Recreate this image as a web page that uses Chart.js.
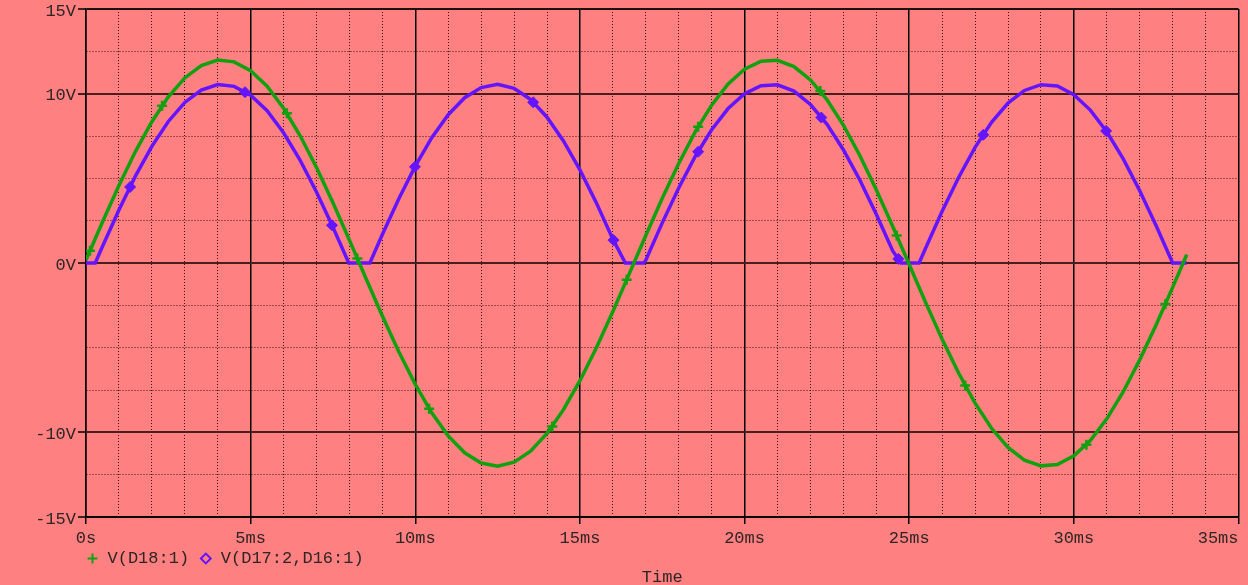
<!DOCTYPE html>
<html>
<head>
<meta charset="utf-8">
<title>V(D18:1) / V(D17:2,D16:1)</title>
<script src="https://cdn.jsdelivr.net/npm/chart.js@4.4.1/dist/chart.umd.min.js"></script>
<style>
  html, body { margin: 0; padding: 0; background: #ff8080; overflow: hidden; }
  #wrap { width: 1248px; height: 600px; }
</style>
</head>
<body>
<div id="wrap"><canvas id="scope"></canvas></div>
<script>
// transformer secondary V(D18:1), time in ms
const secondaryTime = [0, 0.5, 1, 1.5, 2, 2.5, 3, 3.5, 4, 4.5, 5, 5.5, 6, 6.5, 7, 7.5, 8, 8.5, 9, 9.5,
    10, 10.5, 11, 11.5, 12, 12.5, 13, 13.5, 14, 14.5, 15, 15.5, 16, 16.5, 17, 17.5, 18, 18.5, 19, 19.5,
    20, 20.5, 21, 21.5, 22, 22.5, 23, 23.5, 24, 24.5, 25, 25.5, 26, 26.5, 27, 27.5, 28, 28.5, 29, 29.5,
    30, 30.5, 31, 31.5, 32, 32.5, 33, 33.43]
const secondaryVolts = [0.18, 2.42, 4.58, 6.58, 8.34, 9.81, 10.93, 11.66, 11.99, 11.88,
    11.36, 10.44, 9.14, 7.53, 5.64, 3.56, 1.35, -0.90, -3.13, -5.24,
    -7.17, -8.85, -10.21, -11.21, -11.81, -12.00, -11.76, -11.11, -10.06, -8.66,
    -6.95, -5.00, -2.86, -0.63, 1.62, 3.82, 5.88, 7.74, 9.32, 10.57,
    11.45, 11.92, 11.97, 11.60, 10.81, 9.65, 8.14, 6.35, 4.33, 2.16,
    -0.09, -2.34, -4.50, -6.50, -8.28, -9.76, -10.89, -11.64, -11.98, -11.90,
    -11.39, -10.48, -9.20, -7.60, -5.72, -3.65, -1.44, 0.50]

// bridge output V(D17:2,D16:1)
const bridgeTime = [0, 0.28, 0.5, 1, 1.5, 2, 2.5, 3, 3.5, 4, 4.5, 5, 5.5, 6, 6.5, 7, 7.5, 7.98, 8.62,
    9, 9.5, 10, 10.5, 11, 11.5, 12, 12.5, 13, 13.5, 14, 14.5, 15, 15.5, 16, 16.38, 16.94,
    17, 17.5, 18, 18.5, 19, 19.5, 20, 20.5, 21, 21.5, 22, 22.5, 23, 23.5, 24, 24.5, 24.75, 25.3,
    25.5, 26, 26.5, 27, 27.5, 28, 28.5, 29, 29.5, 30, 30.5, 31, 31.5, 32, 32.5, 33, 33.43]
const bridgeVolts = [0, 0, 0.97, 3.13, 5.13, 6.89, 8.36, 9.48, 10.21, 10.54, 10.43, 9.91, 8.99, 7.69, 6.08, 4.19, 2.11, 0, 0,
    1.68, 3.79, 5.72, 7.40, 8.76, 9.76, 10.36, 10.55, 10.31, 9.66, 8.61, 7.21, 5.50, 3.55, 1.41, 0, 0,
    0.17, 2.37, 4.43, 6.29, 7.87, 9.12, 10.00, 10.47, 10.52, 10.15, 9.36, 8.20, 6.69, 4.90, 2.88, 0.71, 0, 0,
    0.89, 3.05, 5.05, 6.83, 8.31, 9.44, 10.19, 10.53, 10.45, 9.94, 9.03, 7.75, 6.15, 4.27, 2.20, 0, 0]

// trace markers
const secondaryMarkTime = [0.12, 2.31, 6.1, 8.24, 10.42, 14.16, 16.42, 18.59, 22.3, 24.62, 26.7, 30.38, 32.78]
const secondaryMarkVolts = [0.72, 9.29, 8.85, 0.27, -8.60, -9.65, -0.99, 8.04, 10.16, 1.62, -7.24, -10.74, -2.42]
const bridgeMarkTime = [1.34, 4.83, 7.47, 9.99, 13.58, 16.02, 18.59, 22.33, 24.67, 27.25, 30.98]
const bridgeMarkVolts = [4.49, 10.09, 2.23, 5.68, 9.49, 1.35, 6.57, 8.59, 0.24, 7.57, 7.80]

const traceNames = ['V(D18:1)', 'V(D17:2,D16:1)']
const traceColors = ['#10a010', '#6414ff']
const traceMarkers = ['cross', 'rectRot']

const xMin = 0, xMax = 35, xStep = 1, xMajor = 5
const yMin = -15, yMax = 15, yStep = 2.5, yMajor = 10

const mono = "'Liberation Mono', 'DejaVu Sans Mono', monospace"
const textColor = '#2e2424'
const dotted = 'rgba(30,0,0,0.85)'

const isMajorX = v => Math.abs(v % xMajor) < 1e-6
const isMajorY = v => Math.abs(v % yMajor) < 1e-6
const isEdgeY = v => Math.abs(Math.abs(v) - yMax) < 1e-6

function toPoints(xs, ys) {
    return xs.map((x, i) => ({ x: x, y: ys[i] }))
}

function renderChart() {
    const ctx = document.querySelector('#scope').getContext('2d')

    const legendItems = traceNames.map((name, i) => ({
        // trailing space keeps the two entries apart like the probe window
        text: i === 0 ? name + ' ' : name,
        fillStyle: i === 0 ? traceColors[i] : 'rgba(0,0,0,0)',
        strokeStyle: traceColors[i],
        lineWidth: 2,
        pointStyle: traceMarkers[i],
        hidden: false,
        datasetIndex: i,
        fontColor: textColor
    }))

    new Chart(ctx, {
        type: 'line',
        data: {
            datasets: [{
                label: traceNames[0],
                data: toPoints(secondaryTime, secondaryVolts),
                borderColor: traceColors[0],
                borderWidth: 3.5,
                pointRadius: 0,
                order: 2
            }, {
                label: traceNames[1],
                data: toPoints(bridgeTime, bridgeVolts),
                borderColor: traceColors[1],
                borderWidth: 3.5,
                pointRadius: 0,
                order: 3
            }, {
                data: toPoints(secondaryMarkTime, secondaryMarkVolts),
                showLine: false,
                pointStyle: traceMarkers[0],
                pointRadius: 5,
                pointBorderWidth: 2.5,
                pointBorderColor: traceColors[0],
                pointBackgroundColor: traceColors[0],
                order: 0
            }, {
                data: toPoints(bridgeMarkTime, bridgeMarkVolts),
                showLine: false,
                pointStyle: traceMarkers[1],
                pointRadius: 5.5,
                pointBorderWidth: 1,
                pointBorderColor: traceColors[1],
                pointBackgroundColor: traceColors[1],
                order: 1
            }]
        },
        options: {
            animation: false,
            responsive: true,
            maintainAspectRatio: false,
            events: [],
            elements: { line: { tension: 0 } },
            layout: { padding: { top: 9, right: 9.5, left: 0, bottom: 0 } },
            scales: {
                x: {
                    type: 'linear',
                    min: xMin,
                    max: xMax,
                    afterFit(scale) {
                        scale.height = 33
                        scale.paddingLeft = 0
                        scale.paddingRight = 0
                    },
                    ticks: {
                        stepSize: xStep,
                        autoSkip: false,
                        maxRotation: 0,
                        minRotation: 0,
                        padding: 4,
                        color: textColor,
                        font: { family: mono, size: 17 },
                        callback: v => {
                            if (!isMajorX(v)) return ''
                            if (v === 0) return '0s'
                            // last label sits left of its tick
                            return v === xMax ? v + 'ms    ' : v + 'ms'
                        }
                    },
                    grid: {
                        color: c => isMajorX(c.tick.value) ? '#000' : dotted,
                        lineWidth: c => isMajorX(c.tick.value) ? 1.5 : 1,
                        tickLength: 7,
                        tickWidth: 1.5,
                        tickColor: c => isMajorX(c.tick.value) ? '#000' : 'rgba(0,0,0,0)'
                    },
                    border: {
                        color: '#000',
                        width: 1.5,
                        dash: c => (c.tick && !isMajorX(c.tick.value)) ? [1, 2] : []
                    }
                },
                y: {
                    type: 'linear',
                    min: yMin,
                    max: yMax,
                    afterFit(scale) {
                        scale.width = 86
                        scale.paddingTop = 0
                        scale.paddingBottom = 0
                    },
                    ticks: {
                        stepSize: yStep,
                        autoSkip: false,
                        padding: 2,
                        labelOffset: 2,
                        color: textColor,
                        font: { family: mono, size: 17 },
                        callback: v => (isMajorY(v) || isEdgeY(v)) ? v + 'V' : ''
                    },
                    grid: {
                        color: c => isEdgeY(c.tick.value) ? '#1e1010' : (isMajorY(c.tick.value) ? '#4a1e1e' : dotted),
                        lineWidth: c => (isMajorY(c.tick.value) || isEdgeY(c.tick.value)) ? 2 : 1,
                        tickLength: 8,
                        tickWidth: 1.5,
                        tickColor: c => (isMajorY(c.tick.value) || isEdgeY(c.tick.value)) ? '#000' : 'rgba(0,0,0,0)'
                    },
                    border: {
                        color: '#000',
                        width: 1.5,
                        dash: c => (c.tick && !isMajorY(c.tick.value) && !isEdgeY(c.tick.value)) ? [1, 2] : []
                    }
                }
            },
            plugins: {
                tooltip: { enabled: false },
                legend: {
                    position: 'bottom',
                    align: 'start',
                    fullSize: false,
                    labels: {
                        usePointStyle: true,
                        boxWidth: 13,
                        boxHeight: 7,
                        padding: 0,
                        color: textColor,
                        font: { family: mono, size: 17 },
                        generateLabels: () => legendItems
                    }
                },
                title: {
                    display: true,
                    text: 'Time',
                    position: 'bottom',
                    fullSize: false,
                    color: textColor,
                    font: { family: mono, size: 17, weight: 'normal' },
                    padding: { top: -10.2, bottom: 12.8 }
                }
            }
        }
    })
}

renderChart()
</script>
</body>
</html>
